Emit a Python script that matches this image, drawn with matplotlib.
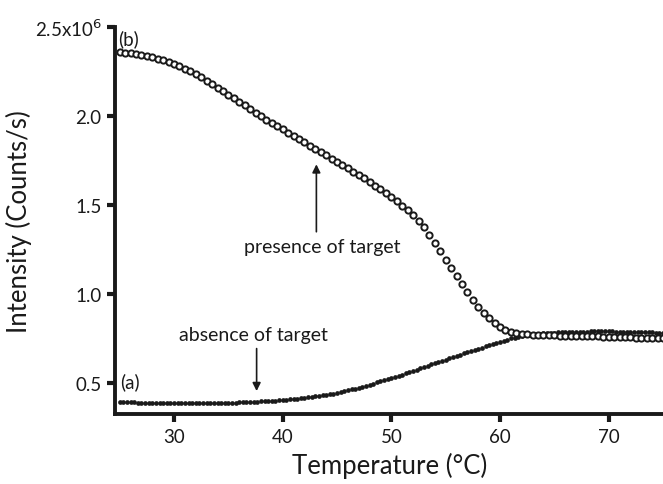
import numpy as np
import matplotlib.pyplot as plt

plt.rcParams['font.family'] = ['Lato', 'DejaVu Sans']

# temperatures (C)
temp_b = np.arange(25, 75.01, 0.5)
temp_a = np.linspace(25, 75, 151)

# (b) presence of target, intensity in 1e6 counts/s
intensity_b = [
    2.360, 2.357, 2.353, 2.348, 2.343, 2.337, 2.330, 2.322, 2.313, 2.303,   # 25-29.5
    2.292, 2.280, 2.267, 2.253, 2.238, 2.222, 2.195, 2.178, 2.160, 2.140,   # 30-34.5
    2.120, 2.100, 2.080, 2.060, 2.040, 2.020, 2.000, 1.981, 1.962, 1.943,   # 35-39.5
    1.925, 1.906, 1.888, 1.870, 1.852, 1.834, 1.816, 1.798, 1.780, 1.762,   # 40-44.5
    1.744, 1.726, 1.707, 1.688, 1.669, 1.650, 1.630, 1.609, 1.588, 1.567,   # 45-49.5
    1.545, 1.521, 1.497, 1.471, 1.445, 1.412, 1.375, 1.333, 1.287, 1.240,   # 50-54.5
    1.193, 1.146, 1.100, 1.055, 1.010, 0.966, 0.928, 0.895, 0.865, 0.838,   # 55-59.5
    0.815, 0.800, 0.790, 0.783, 0.778, 0.774, 0.772, 0.771, 0.770, 0.769,   # 60-64.5
    0.768, 0.767, 0.766, 0.765, 0.765, 0.764, 0.764, 0.763, 0.763, 0.762,   # 65-69.5
    0.761, 0.760, 0.759, 0.758, 0.757, 0.756, 0.755, 0.754, 0.753, 0.752,   # 70-74.5
    0.751,
]

# (a) absence of target, intensity in 1e6 counts/s (3 points per degree)
intensity_a = [
    0.394, 0.393, 0.393, 0.392, 0.392, 0.391, 0.391, 0.390, 0.390,   # 25-27
    0.390, 0.389, 0.389, 0.389, 0.388, 0.388, 0.388, 0.388, 0.388,   # 28-30
    0.388, 0.388, 0.388, 0.388, 0.388, 0.388, 0.388, 0.388, 0.389,   # 31-33
    0.389, 0.389, 0.390, 0.390, 0.391, 0.391, 0.392, 0.393, 0.394,   # 34-36
    0.395, 0.396, 0.397, 0.398, 0.399, 0.400, 0.401, 0.402, 0.404,   # 37-39
    0.405, 0.407, 0.409, 0.411, 0.413, 0.415, 0.417, 0.420, 0.423,   # 40-42
    0.426, 0.429, 0.432, 0.435, 0.438, 0.442, 0.446, 0.450, 0.455,   # 43-45
    0.460, 0.465, 0.470, 0.475, 0.480, 0.486, 0.492, 0.498, 0.504,   # 46-48
    0.510, 0.516, 0.522, 0.528, 0.534, 0.541, 0.548, 0.555, 0.562,   # 49-51
    0.569, 0.576, 0.583, 0.590, 0.598, 0.605, 0.612, 0.619, 0.626,   # 52-54
    0.633, 0.640, 0.646, 0.653, 0.660, 0.667, 0.673, 0.680, 0.687,   # 55-57
    0.694, 0.700, 0.707, 0.714, 0.720, 0.727, 0.733, 0.739, 0.745,   # 58-60
    0.751, 0.756, 0.761, 0.765, 0.769, 0.772, 0.775, 0.777, 0.779,   # 61-63
    0.781, 0.782, 0.783, 0.784, 0.785, 0.786, 0.787, 0.788, 0.788,   # 64-66
    0.789, 0.789, 0.790, 0.790, 0.791, 0.791, 0.791, 0.791, 0.791,   # 67-69
    0.791, 0.791, 0.790, 0.790, 0.790, 0.789, 0.789, 0.788, 0.788,   # 70-72
    0.787, 0.786, 0.786, 0.785, 0.784, 0.783,                        # 73-74
    0.782,                                                           # 75
]

yticks = [0.5, 1.0, 1.5, 2.0, 2.5]
ytick_labels = ['0.5', '1.0', '1.5', '2.0', '2.5x10$^6$']
xticks = [30, 40, 50, 60, 70]

fig = plt.figure(figsize=(6.63, 4.85), dpi=100)
ax = fig.add_axes([0.174, 0.144, 0.826, 0.798])

ax.plot(temp_a, intensity_a, 'o', color='#1a1a1a', markersize=3.4,
        markeredgewidth=0, clip_on=False)
ax.plot(temp_b, intensity_b, 'o', markerfacecolor='white', markeredgecolor='#1a1a1a',
        markersize=4.5, markeredgewidth=1.4, clip_on=False)

ax.set_xlim(24.6, 75)
ax.set_ylim(0.326, 2.5)
ax.set_xticks(xticks)
ax.set_yticks(yticks)
ax.set_yticklabels(ytick_labels)
ax.tick_params(labelsize=13.5, width=3, length=6, pad=4, color='#1a1a1a', labelcolor='#1a1a1a')

for side in ['top', 'right']:
    ax.spines[side].set_visible(False)
for side in ['left', 'bottom']:
    ax.spines[side].set_linewidth(2.8)
    ax.spines[side].set_color('#1a1a1a')

ax.set_xlabel('Temperature (°C)', fontsize=18.5, color='#1a1a1a', labelpad=5)
ax.set_ylabel('Intensity (Counts/s)', fontsize=18.5, color='#1a1a1a', labelpad=2)

ax.text(24.85, 2.44, '(b)', fontsize=13.5, va='center', color='#1a1a1a')
ax.text(25.0, 0.51, '(a)', fontsize=13.5, va='center', color='#1a1a1a')

ax.annotate('', xy=(43.1, 1.745), xytext=(43.1, 1.335),
            arrowprops=dict(arrowstyle='-|>', color='#1a1a1a', lw=1.2, mutation_scale=12))
ax.text(43.6, 1.265, 'presence of target', fontsize=14, ha='center', va='center', color='#1a1a1a')

ax.annotate('', xy=(37.6, 0.44), xytext=(37.6, 0.71),
            arrowprops=dict(arrowstyle='-|>', color='#1a1a1a', lw=1.2, mutation_scale=12))
ax.text(37.3, 0.775, 'absence of target', fontsize=14, ha='center', va='center', color='#1a1a1a')

fig.savefig('out.png', dpi=100)
